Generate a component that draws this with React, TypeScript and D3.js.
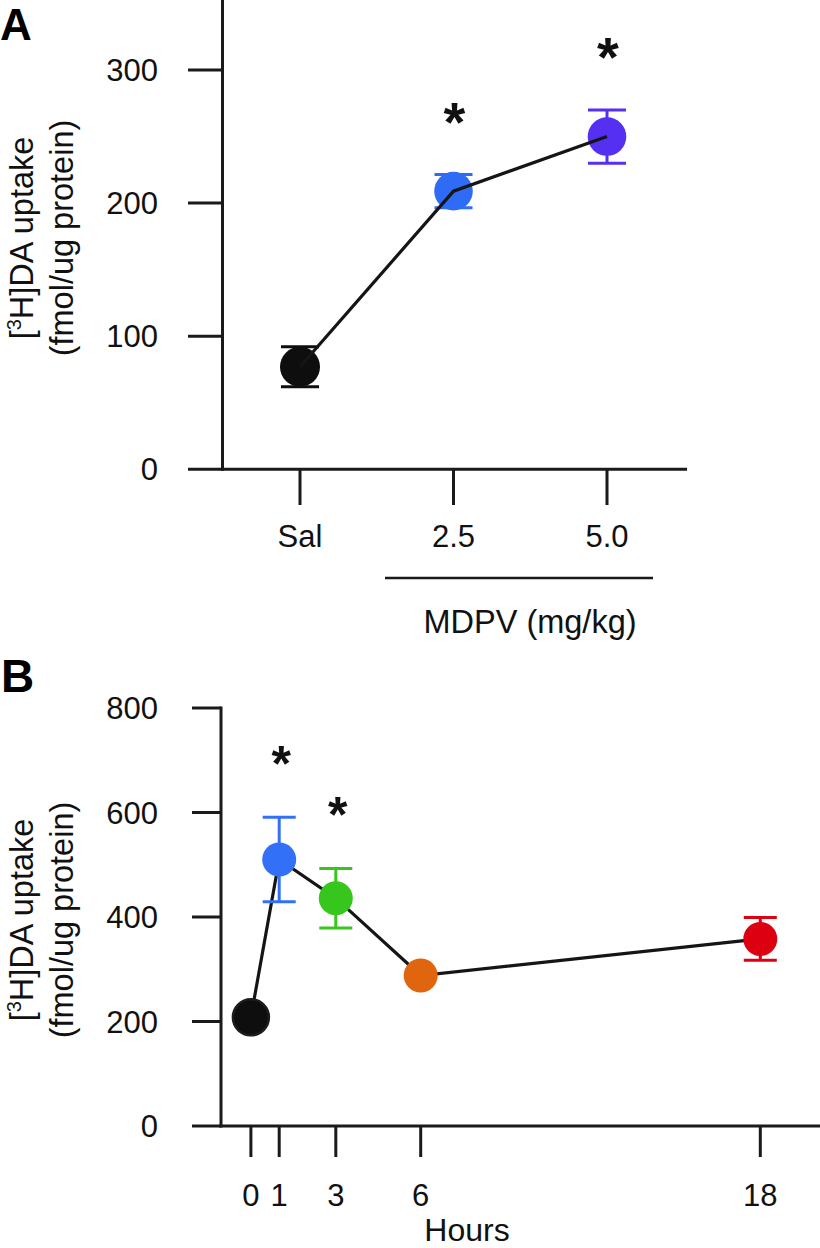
import React from "react";
import * as d3 from "d3";

// ---------- Panel A data ----------
const doseLabels = ["Sal", "2.5", "5.0"];
const doseMeans = [77, 209, 250];
const doseSem = [15, 12.5, 20];
const doseColors = ["#0e0e0e", "#2f6cf6", "#5530f2"];
const doseSig = [false, true, true];
const aYTicks = [0, 100, 200, 300];

// ---------- Panel B data ----------
const hours = [0, 1, 3, 6, 18];
const hourMeans = [208, 510, 436, 288, 358];
const hourSem = [0, 81, 57, 0, 41];
const hourColors = ["#0e0e0e", "#3370f8", "#36c61e", "#e0650f", "#dd0010"];
const hourSig = [false, true, true, false, false];
const bYTicks = [0, 200, 400, 600, 800];

const FONT = "'Liberation Sans', Arial, Helvetica, sans-serif";

function YLabel({ cx, cy }: { cx: number; cy: number }) {
  return (
    <g transform={`translate(${cx},${cy}) rotate(-90)`} fontFamily={FONT} fontSize={32.5} fill="#111" textAnchor="middle">
      <text x={0} y={-7}>
        [<tspan fontSize={20} dy={-12}>3</tspan>
        <tspan dy={12}>H]DA uptake</tspan>
      </text>
      <text x={0} y={33}>(fmol/ug protein)</text>
    </g>
  );
}

function Star({ x, y, size }: { x: number; y: number; size: number }) {
  return (
    <text x={x} y={y + size * 0.56} textAnchor="middle" fontFamily={FONT} fontWeight="bold" fontSize={size} fill="#111">
      *
    </text>
  );
}

export default function App() {
  // Panel A scales
  const ax = d3.scalePoint<string>().domain(doseLabels).range([300, 607]).padding(0);
  const ay = d3.scaleLinear().domain([0, 300]).range([469.3, 70]);
  const aAxisX = 222.5;
  const aAxisY = ay(0);
  const aLine = d3
    .line<number>()
    .x((_, i) => ax(doseLabels[i]) as number)
    .y((d) => ay(d));

  // Panel B scales
  const bx = d3.scaleLinear().domain([0, 18]).range([250.9, 760.3]);
  const by = d3.scaleLinear().domain([0, 800]).range([1126, 708]);
  const bAxisX = 221;
  const bAxisY = by(0);
  const bLine = d3
    .line<number>()
    .x((_, i) => bx(hours[i]))
    .y((d) => by(d));

  const sw = 3;
  const axisColor = "#1a1a1a";

  return (
    <svg width={820} height={1248} style={{ position: "absolute", left: 0, top: 0, background: "#fff" }}>
      <rect x={0} y={0} width={820} height={1248} fill="#fff" />
      {/* ================= Panel A ================= */}
      <text x={0} y={40} fontFamily={FONT} fontWeight="bold" fontSize={44} fill="#000">A</text>
      <YLabel cx={40} cy={238} />
      {/* y axis */}
      <line x1={aAxisX} x2={aAxisX} y1={0} y2={aAxisY + 1.5} stroke={axisColor} strokeWidth={sw} />
      {aYTicks.map((t) => (
        <g key={"ayt" + t}>
          <line x1={188} x2={aAxisX} y1={ay(t)} y2={ay(t)} stroke={axisColor} strokeWidth={sw} />
          <text x={158} y={ay(t) + 11} textAnchor="end" fontFamily={FONT} fontSize={31} fill="#111">{t}</text>
        </g>
      ))}
      {/* x axis */}
      <line x1={aAxisX - 1.5} x2={687} y1={aAxisY} y2={aAxisY} stroke={axisColor} strokeWidth={sw} />
      {doseLabels.map((l) => (
        <g key={"axt" + l}>
          <line x1={ax(l)} x2={ax(l)} y1={aAxisY} y2={505} stroke={axisColor} strokeWidth={sw} />
          <text x={ax(l)} y={547} textAnchor="middle" fontFamily={FONT} fontSize={31} fill="#111">{l}</text>
        </g>
      ))}
      <line x1={385} x2={653} y1={578} y2={578} stroke={axisColor} strokeWidth={2.5} />
      <text x={530} y={633} textAnchor="middle" fontFamily={FONT} fontSize={32.5} fill="#111">MDPV (mg/kg)</text>
      {/* error bars */}
      {doseMeans.map((m, i) => {
        const x = ax(doseLabels[i]) as number;
        const hi = ay(m + doseSem[i]);
        const lo = ay(m - doseSem[i]);
        return (
          <g key={"aeb" + i} stroke={doseColors[i]} strokeWidth={sw}>
            <line x1={x} x2={x} y1={hi} y2={lo} />
            <line x1={x - 19} x2={x + 19} y1={hi} y2={hi} />
            <line x1={x - 19} x2={x + 19} y1={lo} y2={lo} />
          </g>
        );
      })}
      {doseMeans.map((m, i) => (
        <circle key={"ac" + i} cx={ax(doseLabels[i]) as number} cy={ay(m)} r={i === 0 ? 20 : 19.3} fill={doseColors[i]} />
      ))}
      <path d={aLine(doseMeans) || ""} fill="none" stroke="#151515" strokeWidth={3.2} />
      {doseMeans.map((m, i) =>
        doseSig[i] ? <Star key={"as" + i} x={(ax(doseLabels[i]) as number) + 1} y={ay(m + doseSem[i]) - 65} size={56} /> : null
      )}

      {/* ================= Panel B ================= */}
      <text x={1} y={692} fontFamily={FONT} fontWeight="bold" fontSize={46} fill="#000">B</text>
      <YLabel cx={40} cy={920} />
      {/* y axis */}
      <line x1={bAxisX} x2={bAxisX} y1={by(800) - 1.5} y2={bAxisY + 1.5} stroke={axisColor} strokeWidth={sw} />
      {bYTicks.map((t) => (
        <g key={"byt" + t}>
          <line x1={192} x2={bAxisX} y1={by(t)} y2={by(t)} stroke={axisColor} strokeWidth={sw} />
          <text x={158} y={by(t) + 11} textAnchor="end" fontFamily={FONT} fontSize={31} fill="#111">{t}</text>
        </g>
      ))}
      {/* x axis */}
      <line x1={bAxisX - 1.5} x2={820} y1={bAxisY} y2={bAxisY} stroke={axisColor} strokeWidth={sw} />
      {hours.map((h) => (
        <g key={"bxt" + h}>
          <line x1={bx(h)} x2={bx(h)} y1={bAxisY} y2={1157} stroke={axisColor} strokeWidth={sw} />
          <text x={bx(h)} y={1206} textAnchor="middle" fontFamily={FONT} fontSize={31} fill="#111">{h}</text>
        </g>
      ))}
      <text x={467} y={1241} textAnchor="middle" fontFamily={FONT} fontSize={32} fill="#111">Hours</text>
      {/* line under markers */}
      <path d={bLine(hourMeans) || ""} fill="none" stroke="#151515" strokeWidth={3.2} />
      {hourMeans.map((m, i) => {
        if (!hourSem[i]) return null;
        const x = bx(hours[i]);
        const hi = by(m + hourSem[i]);
        const lo = by(m - hourSem[i]);
        return (
          <g key={"beb" + i} stroke={hourColors[i]} strokeWidth={sw}>
            <line x1={x} x2={x} y1={hi} y2={lo} />
            <line x1={x - 16.5} x2={x + 16.5} y1={hi} y2={hi} />
            <line x1={x - 16.5} x2={x + 16.5} y1={lo} y2={lo} />
          </g>
        );
      })}
      {hourMeans.map((m, i) => (
        <circle
          key={"bc" + i}
          cx={bx(hours[i])}
          cy={by(m)}
          r={i === 0 ? 18 : 17}
          fill={hourColors[i]}
          stroke={i === 0 ? "#1c1c1c" : "none"}
          strokeWidth={i === 0 ? 2.5 : 0}
        />
      ))}
      {hourMeans.map((m, i) =>
        hourSig[i] ? <Star key={"bs" + i} x={bx(hours[i]) + 2} y={by(m + hourSem[i]) - 64} size={50} /> : null
      )}
    </svg>
  );
}
